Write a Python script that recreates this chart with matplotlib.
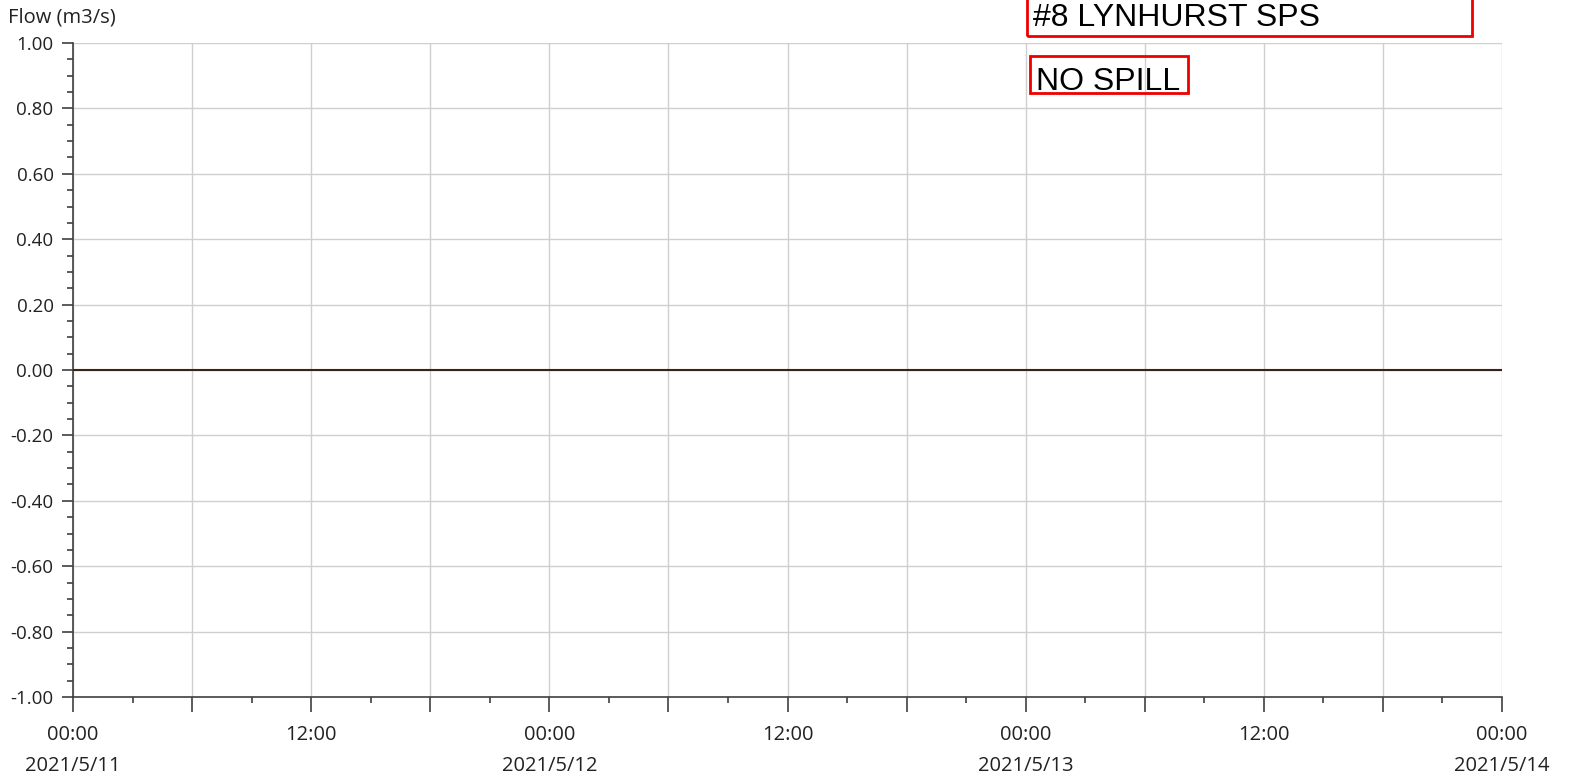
import numpy as np
import pandas as pd
import matplotlib
matplotlib.use("Agg")
from matplotlib import pyplot as plt
import matplotlib.dates as mdates
from matplotlib.patches import Rectangle
from matplotlib.ticker import MultipleLocator, FixedLocator

# data: flow at the station (all zero, no spill)
flow_times = ["2021-05-11 00:00", "2021-05-11 12:00", "2021-05-12 00:00", "2021-05-12 12:00",
              "2021-05-13 00:00", "2021-05-13 12:00", "2021-05-14 00:00"]
flow_values = [0.0, 0.0, 0.0, 0.0, 0.0, 0.0, 0.0]
y_ticks = [-1.0, -0.8, -0.6, -0.4, -0.2, 0.0, 0.2, 0.4, 0.6, 0.8, 1.0]
title_text = "#8 LYNHURST SPS"
status_text = "NO SPILL"
y_label = "Flow (m3/s)"

W, H = 1569, 776
plt.rcParams["font.family"] = ["Open Sans", "DejaVu Sans"]
fig = plt.figure(figsize=(W / 100, H / 100), dpi=100)

def fx(px):
	return px / W

def fy(py):
	return 1 - py / H

ax = fig.add_axes([fx(73), fy(697), fx(1502) - fx(73), fy(43) - fy(697)])

t = pd.to_datetime(flow_times)
ax.plot(t, flow_values, color="#3a2218", lw=1.5, zorder=3)

t0 = pd.Timestamp("2021-05-11")
t1 = pd.Timestamp("2021-05-14")
ax.set_xlim(t0, t1)
ax.set_ylim(-1, 1)

# y axis
ax.yaxis.set_major_locator(FixedLocator(y_ticks))
ax.yaxis.set_minor_locator(MultipleLocator(0.05))
ax.set_yticklabels(["%.2f" % v for v in y_ticks])

# x axis: grid every 6h, labels every 12h, minor ticks every 3h
six = pd.date_range(t0, t1, freq="6h")
three = pd.date_range(t0, t1, freq="3h")
labels = []
for d in six:
	if d.hour == 0:
		labels.append("00:00\n%d/%d/%d" % (d.year, d.month, d.day))
	elif d.hour == 12:
		labels.append("12:00")
	else:
		labels.append("")
ax.set_xticks(mdates.date2num(six))
ax.set_xticklabels(labels, linespacing=1.7)
ax.xaxis.set_minor_locator(FixedLocator(mdates.date2num(three)))

ax.grid(True, which="major", color="#cfcfcf", lw=1)
ax.set_axisbelow(True)

for s in ["top", "right"]:
	ax.spines[s].set_visible(False)
for s in ["left", "bottom"]:
	ax.spines[s].set_color("#404040")
	ax.spines[s].set_linewidth(1.2)

ax.tick_params(axis="y", which="major", length=8, width=1.2, color="#404040", labelsize=13.5, pad=6, labelcolor="#222222")
ax.tick_params(axis="y", which="minor", length=4.5, width=1.2, color="#404040")
ax.tick_params(axis="x", which="major", length=10.5, width=1.2, color="#404040", labelsize=14.5, pad=10, labelcolor="#222222")
ax.tick_params(axis="x", which="minor", length=4.5, width=1.2, color="#404040")
for lab in ax.get_xticklabels():
	lab.set_verticalalignment("top")

fig.text(fx(8), fy(23), y_label, fontsize=14.5, color="#222222", ha="left", va="baseline")

# title boxes
fig.patches.append(Rectangle((fx(1027), fy(36)), fx(1472) - fx(1027), 0.2, transform=fig.transFigure,
	fill=False, edgecolor="#ee0000", lw=2, clip_on=False))
fig.text(fx(1033), fy(26), title_text, fontsize=23, family="Liberation Sans", color="black", ha="left", va="baseline")

fig.patches.append(Rectangle((fx(1030), fy(93)), fx(1188) - fx(1030), fy(56) - fy(93), transform=fig.transFigure,
	fill=False, edgecolor="#ee0000", lw=2))
fig.text(fx(1036), fy(90), status_text, fontsize=23, family="Liberation Sans", color="black", ha="left", va="baseline")

fig.savefig("out.png", dpi=100, facecolor="white")
